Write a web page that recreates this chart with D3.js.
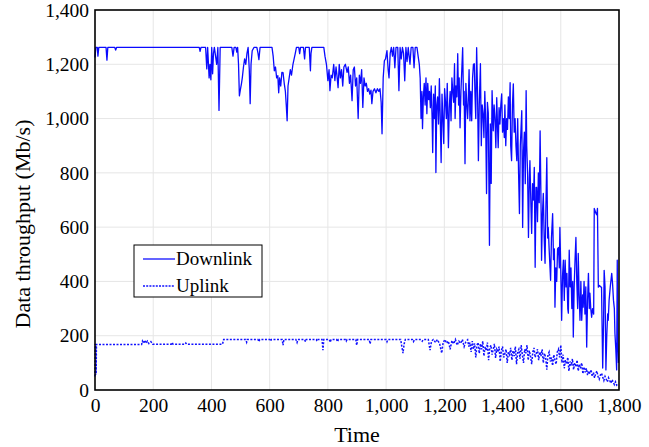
<!DOCTYPE html>
<html>
<head>
<meta charset="utf-8">
<script src="https://cdn.jsdelivr.net/npm/d3@7"></script>
<style>
  body { margin: 0; background: #fff; }
  svg text { font-family: "Liberation Serif", "Times New Roman", serif; fill: #000; }
</style>
</head>
<body>
<div id="chart"><svg width="649" height="447"></svg></div>
<script>
// values, [time, Mb/s]
const downlink = [
  [0,1225],[3,1262],[8,1262],[10,1230],[13,1262],[38,1262],[41,1215],[44,1262],[68,1262],[71,1252],[74,1262],
  [358,1262],[361,1248],[364,1262],[380,1262],[384,1183],[387,1262],[392,1150],[395,1200],[398,1143],[401,1262],
  [404,1165],[407,1240],[410,1262],[418,1200],[422,1262],[426,1030],[430,1262],[470,1262],[474,1230],[478,1262],
  [484,1262],[487,1245],[490,1262],[493,1200],[496,1084],[500,1110],[503,1128],[506,1150],[510,1190],[514,1220],
  [518,1200],[522,1240],[526,1262],[530,1180],[533,1055],[536,1200],[540,1250],[546,1262],[556,1262],[560,1240],
  [563,1217],[567,1262],[608,1262],[612,1230],[616,1176],[620,1190],[624,1150],[628,1158],[631,1095],[634,1150],
  [638,1120],[642,1170],[646,1169],[650,1130],[654,1100],[657,1050],[660,992],[663,1120],[667,1150],[671,1180],
  [675,1160],[680,1200],[684,1220],[688,1240],[692,1262],[700,1262],[703,1239],[706,1262],[716,1262],[720,1220],
  [723,1262],[736,1262],[740,1176],[742,1240],[745,1262],[786,1262],[790,1230],[795,1200],[800,1140],[804,1180],
  [807,1103],[811,1160],[815,1150],[820,1200],[824,1140],[828,1190],[831,1160],[835,1114],[839,1200],[843,1150],
  [847,1180],[851,1120],[855,1190],[860,1200],[866,1170],[870,1190],[874,1130],[878,1160],[883,1066],[887,1180],
  [891,1190],[895,1120],[899,1150],[904,1000],[908,1160],[912,1130],[916,1180],[920,1041],[924,1150],[928,1120],
  [932,1130],[936,1100],[940,1110],[944,1090],[948,1105],[951,1055],[955,1100],[960,1110],[965,1095],[970,1110],
  [975,1100],[979,1110],[983,1060],[986,944],[990,1150],[994,1213],[998,1220],[1003,1250],[1007,1180],[1010,1150],
  [1014,1240],[1018,1262],[1022,1230],[1026,1262],[1030,1187],[1034,1262],[1040,1262],[1044,1103],[1048,1262],
  [1052,1220],[1056,1262],[1060,1240],[1064,1139],[1068,1262],[1072,1210],[1076,1262],[1082,1200],[1086,1262],
  [1092,1262],[1096,1187],[1100,1262],[1106,1262],[1110,1230],[1114,1200],[1117,1150],[1120,1000],[1123,1100],
  [1125,963],[1128,1080],[1131,1130],[1134,1050],[1137,1150],[1140,1018],[1143,1130],[1146,1070],[1149,1100],
  [1152,1040],[1155,1120],[1158,1000],[1160,875],[1163,1090],[1166,1000],[1169,1120],[1171,801],[1174,1050],
  [1177,1080],[1180,980],[1183,1147],[1186,1000],[1189,838],[1192,1090],[1195,1000],[1198,908],[1201,1110],
  [1204,1060],[1207,1000],[1210,1130],[1214,893],[1217,1040],[1220,1100],[1223,992],[1226,1150],[1229,1100],
  [1232,1060],[1235,1202],[1237,1000],[1240,1120],[1243,1080],[1246,1239],[1249,1050],[1251,1150],[1254,966],
  [1257,1100],[1260,1180],[1263,1261],[1266,1050],[1268,1100],[1271,834],[1274,1130],[1277,1055],[1280,1000],
  [1282,1055],[1285,1180],[1288,992],[1291,1100],[1294,992],[1297,1150],[1300,1200],[1303,1202],[1305,1100],
  [1308,1000],[1311,1261],[1314,1100],[1317,845],[1320,1050],[1324,1202],[1327,900],[1330,1050],[1333,1018],
  [1336,930],[1339,1100],[1342,990],[1345,724],[1348,1060],[1351,1020],[1355,533],[1358,980],[1361,761],
  [1364,1103],[1368,955],[1371,1050],[1374,1000],[1377,893],[1380,1077],[1383,960],[1385,893],[1388,1040],
  [1391,980],[1394,1050],[1397,1091],[1400,950],[1403,1000],[1406,930],[1408,1050],[1411,900],[1414,1000],
  [1417,960],[1420,1080],[1423,1000],[1426,1132],[1428,900],[1431,845],[1434,1050],[1437,1128],[1440,950],
  [1443,1000],[1446,900],[1449,845],[1452,1000],[1455,800],[1458,650],[1461,900],[1463,950],[1466,1029],
  [1469,599],[1472,880],[1475,950],[1478,760],[1481,1103],[1483,900],[1486,800],[1489,562],[1492,780],
  [1494,845],[1497,700],[1500,577],[1503,760],[1506,700],[1509,820],[1512,452],[1515,746],[1517,746],
  [1520,620],[1523,800],[1526,690],[1529,955],[1532,700],[1534,478],[1537,650],[1540,724],[1543,560],
  [1546,467],[1549,680],[1552,856],[1555,560],[1557,599],[1560,520],[1563,450],[1565,404],[1568,560],
  [1572,650],[1575,480],[1578,520],[1580,305],[1583,450],[1586,400],[1589,520],[1592,525],[1595,450],
  [1597,599],[1600,440],[1603,257],[1606,420],[1609,478],[1612,330],[1615,478],[1618,380],[1621,430],
  [1624,300],[1626,283],[1629,515],[1632,380],[1635,450],[1638,300],[1641,400],[1643,195],[1646,380],
  [1649,480],[1652,562],[1655,400],[1658,300],[1660,503],[1663,350],[1666,257],[1669,400],[1672,257],
  [1675,350],[1677,305],[1680,400],[1683,280],[1686,380],[1689,158],[1692,330],[1695,430],[1698,300],
  [1700,357],[1703,300],[1706,268],[1709,300],[1713,280],[1715,669],[1718,660],[1721,650],[1724,645],
  [1726,669],[1729,379],[1733,385],[1737,380],[1740,379],[1744,81],[1747,250],[1749,441],[1752,380],
  [1755,74],[1758,200],[1761,280],[1763,257],[1766,330],[1770,380],[1775,430],[1778,390],[1781,331],
  [1784,300],[1786,209],[1789,150],[1792,74],[1794,478],[1796,173],[1798,100]
];

const uplink = [
  [0,50],[1,170],[2,55],[3,165],[4,60],[5,168],[160,168],[163,180],[167,172],[171,184],[175,172],[180,180],
  [185,171],[192,178],[198,169],[262,169],[265,175],[268,169],[310,169],[312,173],[315,169],[438,169],[442,186],
  [518,186],[521,176],[524,186],[560,186],[563,178],[566,186],[600,186],[603,180],[606,186],[643,186],[646,165],
  [649,186],[690,186],[694,175],[697,186],[720,186],[723,178],[726,186],[760,186],[763,180],[766,186],[780,186],
  [783,147],[786,186],[805,186],[808,176],[811,186],[830,186],[833,178],[836,186],[860,186],[863,180],[866,186],
  [896,186],[899,165],[902,186],[942,186],[945,170],[948,186],[1000,186],[1003,178],[1006,186],[1050,186],
  [1054,160],[1058,136],[1062,170],[1066,186],[1090,186],[1094,178],[1098,186],[1120,186],[1124,180],[1128,186],
  [1145,186],[1151,147],[1156,180],[1162,186],[1170,175],[1176,186],[1184,170],[1191,136],[1196,175],[1202,186],
  [1208,172],[1214,180],[1220,150],[1226,182],[1232,170],[1238,186],[1244,165],[1250,180],[1256,172],[1262,186],
  [1268,160],[1274,178],[1280,185],[1284,160],[1288,175],[1292,140],[1296,180],[1300,150],[1304,172],[1308,120],
  [1312,165],[1316,175],[1320,135],[1324,170],[1328,150],[1332,180],[1336,125],[1340,160],[1344,145],[1348,175],
  [1352,110],[1356,155],[1360,165],[1364,130],[1368,150],[1372,170],[1376,118],[1380,150],[1384,140],[1388,160],
  [1392,105],[1396,145],[1400,160],[1404,120],[1408,135],[1412,150],[1416,100],[1420,140],[1424,130],[1428,155],
  [1432,110],[1436,145],[1440,125],[1444,160],[1448,95],[1452,140],[1456,150],[1460,115],[1464,165],[1468,130],
  [1472,100],[1476,150],[1480,135],[1484,165],[1488,110],[1492,145],[1496,125],[1500,95],[1504,140],[1508,155],
  [1512,120],[1516,135],[1520,150],[1524,110],[1528,140],[1532,125],[1536,150],[1540,100],[1544,135],[1548,120],
  [1552,75],[1556,130],[1560,140],[1564,105],[1568,120],[1572,90],[1576,130],[1580,110],[1584,95],[1588,140],
  [1592,150],[1596,120],[1600,165],[1604,100],[1608,130],[1612,80],[1616,110],[1620,95],[1624,120],[1628,70],
  [1632,105],[1636,90],[1640,115],[1644,75],[1648,100],[1652,85],[1656,110],[1660,70],[1664,95],[1668,80],
  [1672,100],[1676,60],[1680,85],[1684,65],[1688,80],[1692,55],[1696,70],[1700,60],[1704,75],[1708,50],
  [1712,65],[1716,45],[1720,60],[1724,70],[1728,50],[1732,40],[1736,55],[1740,62],[1744,48],[1748,35],
  [1752,50],[1756,40],[1760,30],[1764,45],[1768,35],[1772,25],[1776,38],[1780,29],[1784,20],[1788,30],
  [1792,18],[1796,22]
];

const xTicks = [0, 200, 400, 600, 800, 1000, 1200, 1400, 1600, 1800];
const yTicks = [0, 200, 400, 600, 800, 1000, 1200, 1400];
const seriesNames = ["Downlink", "Uplink"];

const svg = d3.select("#chart svg");
const margin = { left: 95, right: 30, top: 10, bottom: 57 };
const width = +svg.attr("width");
const height = +svg.attr("height");

const x = d3.scaleLinear().domain([0, 1800]).range([margin.left, width - margin.right]);
const y = d3.scaleLinear().domain([0, 1400]).range([height - margin.bottom, margin.top]);

// grid
svg.append("g")
    .selectAll("line")
    .data(xTicks.slice(1, -1))
    .join("line")
    .attr("x1", d => x(d)).attr("x2", d => x(d))
    .attr("y1", y(0)).attr("y2", y(1400))
    .attr("stroke", "#e6e6e6");
svg.append("g")
    .selectAll("line")
    .data(yTicks.slice(1, -1))
    .join("line")
    .attr("x1", x(0)).attr("x2", x(1800))
    .attr("y1", d => y(d)).attr("y2", d => y(d))
    .attr("stroke", "#e6e6e6");

const line = d3.line().x(d => x(d[0])).y(d => y(d[1]));

svg.append("path")
    .datum(uplink)
    .attr("fill", "none")
    .attr("stroke", "#1010ff")
    .attr("stroke-width", 1.5)
    .attr("stroke-dasharray", "2,1.5")
    .attr("d", line);

svg.append("path")
    .datum(downlink)
    .attr("fill", "none")
    .attr("stroke", "#0a0aff")
    .attr("stroke-width", 1.3)
    .attr("stroke-linejoin", "round")
    .attr("d", line);

// frame
svg.append("rect")
    .attr("x", x(0)).attr("y", y(1400))
    .attr("width", x(1800) - x(0)).attr("height", y(0) - y(1400))
    .attr("fill", "none").attr("stroke", "#000").attr("stroke-width", 1.6);

// axes
const fmt = d3.format(",");
const yAxis = svg.append("g")
    .attr("transform", `translate(${x(0)},0)`)
    .call(d3.axisLeft(y).tickValues(yTicks).tickFormat(fmt).tickSize(0).tickPadding(6));
yAxis.select(".domain").remove();
yAxis.selectAll("text").style("font-size", "19.5px");

const xAxis = svg.append("g")
    .attr("transform", `translate(0,${y(0)})`)
    .call(d3.axisBottom(x).tickValues(xTicks).tickFormat(fmt).tickSize(0).tickPadding(8));
xAxis.select(".domain").remove();
xAxis.selectAll("text").style("font-size", "19.5px");

svg.append("text")
    .attr("x", (x(0) + x(1800)) / 2).attr("y", 442)
    .attr("text-anchor", "middle")
    .style("font-size", "22px")
    .text("Time");

svg.append("text")
    .attr("transform", `translate(30,${(y(0) + y(1400)) / 2 + 24}) rotate(-90)`)
    .attr("text-anchor", "middle")
    .style("font-size", "22px")
    .text("Data throughput (Mb/s)");

// legend
const legend = svg.append("g").attr("transform", "translate(134,245)");
legend.append("rect")
    .attr("width", 128).attr("height", 52)
    .attr("fill", "#fff").attr("stroke", "#000").attr("stroke-width", 1);
seriesNames.forEach((name, i) => {
    const ly = 14 + i * 27;
    legend.append("line")
        .attr("x1", 9).attr("x2", 41)
        .attr("y1", ly).attr("y2", ly)
        .attr("stroke", "#1010ff")
        .attr("stroke-width", 1.3)
        .attr("stroke-dasharray", i === 0 ? null : "2,1.2");
    legend.append("text")
        .attr("x", 42).attr("y", ly + 6)
        .style("font-size", "19px")
        .text(name);
});
</script>
</body>
</html>
